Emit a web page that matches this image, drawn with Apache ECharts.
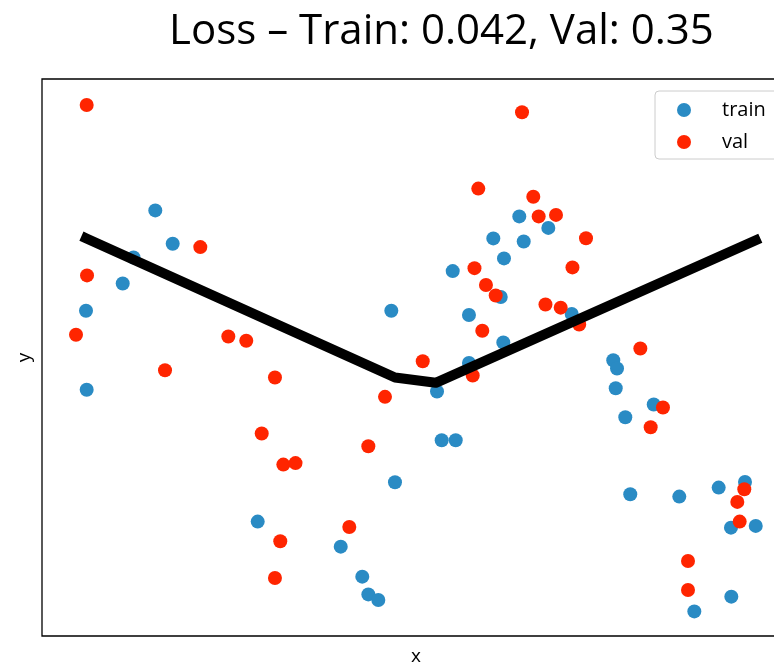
<!DOCTYPE html>
<html>
<head>
<meta charset="utf-8">
<script src="https://cdn.jsdelivr.net/npm/echarts@6/dist/echarts.min.js"></script>
<style>
  html, body { margin: 0; padding: 0; background: #ffffff; }
  #chart { width: 774px; height: 662px; }
</style>
</head>
<body>
<div id="chart"></div>
<script>
// Training samples
const trainX = [1.166, 1.422, 0.846, 0.687, 0.147, 0.157, 2.672, 3.893, 4.210, 4.299,
                4.446, 4.691, 4.637, 5.309, 5.378, 5.584, 5.540, 5.779, 5.779, 6.246,
                6.284, 6.294, 6.137, 6.519, 6.584, 6.946, 7.290, 7.901, 7.956, 7.937,
                8.496, 8.078, 8.151, 8.872, 9.451, 9.838, 9.632, 9.996, 9.637, 9.093];
const trainY = [7.905, 7.247, 6.976, 6.462, 5.923, 4.362, 1.759, 1.265, 0.672, 0.322,
                0.211, 2.536, 5.923, 4.328, 3.366, 3.366, 6.706, 5.840, 4.891, 6.196,
                5.296, 6.957, 7.352, 7.787, 7.292, 7.559, 5.860, 4.947, 4.783, 4.393,
                4.071, 3.820, 2.298, 2.253, 2.431, 2.543, 1.640, 1.674, 0.277, -0.014];

// Validation samples
const valX = [0.157, 1.828, 0.162, 0.000, 2.240, 2.504, 1.309, 2.926, 2.731, 3.049,
              3.228, 3.004, 2.926, 4.019, 4.299, 4.544, 5.099, 5.834, 5.975, 6.029,
              6.172, 5.860, 5.916, 6.559, 6.725, 6.804, 7.059, 7.500, 7.301, 6.904,
              7.128, 7.400, 8.299, 8.632, 8.451, 9.828, 9.725, 9.760, 9.000, 9.000];
const valY = [9.986, 7.180, 6.621, 5.449, 5.415, 5.330, 4.749, 4.605, 3.498, 2.885,
              2.915, 1.370, 0.646, 1.654, 3.247, 4.223, 4.927, 4.644, 5.528, 6.433,
              6.225, 6.765, 8.336, 9.842, 8.176, 7.787, 7.816, 7.356, 6.779, 6.047,
              5.984, 5.652, 5.178, 4.012, 3.623, 2.397, 2.148, 1.759, 0.982, 0.409];

// Model prediction (piecewise linear fit)
const fitX = [0.147, 4.691, 5.290, 9.996];
const fitY = [7.356, 4.605, 4.500, 7.314];

const titleText = 'Loss \u2013 Train: 0.042, Val: 0.35';
const FONT = 'Open Sans';

const zip = (xs, ys) => xs.map((x, i) => [x, ys[i]]);

const chart = echarts.init(document.getElementById('chart'), null, { renderer: 'canvas' });
chart.setOption({
  animation: false,
  backgroundColor: '#ffffff',
  title: {
    text: titleText,
    left: 164,
    top: 6,
    textStyle: { fontFamily: FONT, fontSize: 42, fontWeight: 'normal', color: '#000' }
  },
  legend: {
    data: ['train', 'val'],
    orient: 'vertical',
    left: 655,
    top: 91,
    icon: 'circle',
    itemWidth: 14,
    itemHeight: 14,
    itemGap: 12,
    padding: [9, 40, 7, 22],
    borderColor: '#cccccc',
    borderWidth: 1,
    borderRadius: 4,
    backgroundColor: '#ffffff',
    textStyle: { fontFamily: FONT, fontSize: 20, color: '#000', lineHeight: 20, padding: [0, 0, 0, 26] }
  },
  grid: {
    left: 42, top: 79, right: -16, bottom: 26,
    outerBoundsMode: 'none', containLabel: false,
    show: true, borderColor: '#000', borderWidth: 1.3, backgroundColor: '#fff'
  },
  xAxis: {
    type: 'value', min: -0.5, max: 10.5,
    name: 'x', nameLocation: 'middle', nameGap: 11,
    nameTextStyle: { fontFamily: FONT, fontSize: 19, color: '#000' },
    axisLine: { show: false }, axisTick: { show: false },
    axisLabel: { show: false }, splitLine: { show: false }
  },
  yAxis: {
    type: 'value', min: -0.5, max: 10.5,
    name: 'y', nameLocation: 'middle', nameGap: 8,
    nameTextStyle: { fontFamily: FONT, fontSize: 19, color: '#000' },
    axisLine: { show: false }, axisTick: { show: false },
    axisLabel: { show: false }, splitLine: { show: false }
  },
  series: [
    {
      name: 'train', type: 'scatter', data: zip(trainX, trainY),
      symbol: 'circle', symbolSize: 14,
      itemStyle: { color: '#2a8bc4', opacity: 1 }, z: 2
    },
    {
      name: 'val', type: 'scatter', data: zip(valX, valY),
      symbol: 'circle', symbolSize: 14,
      itemStyle: { color: '#ff2500', opacity: 1 }, z: 3
    },
    {
      name: 'fit', type: 'line', data: zip(fitX, fitY),
      showSymbol: false, symbol: 'none', silent: true,
      lineStyle: { color: '#000', width: 10, cap: 'square', join: 'round' }, z: 4
    }
  ]
});
</script>
</body>
</html>
